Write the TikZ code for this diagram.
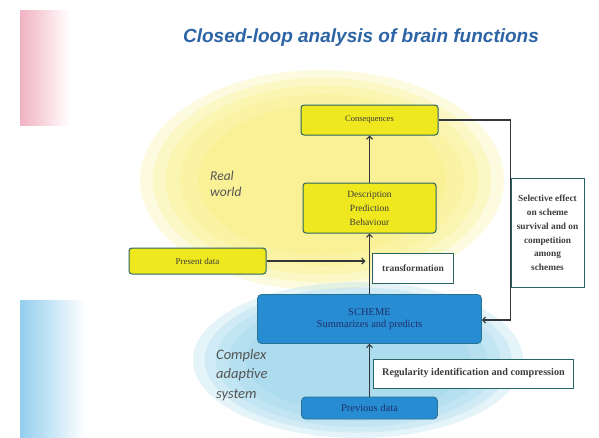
\documentclass[tikz,border=0pt]{standalone}
\usepackage{fontspec}
\setmainfont{Liberation Serif}
\newfontfamily\titlefont{Liberation Sans}
\newfontfamily\regionfont{Carlito}
\usetikzlibrary{arrows.meta,calc}
\definecolor{boxedge}{RGB}{40,100,100}
\definecolor{boxyellow}{RGB}{240,232,30}
\definecolor{boxblue}{RGB}{40,140,210}
\definecolor{navy}{RGB}{30,50,110}
\definecolor{textgray}{RGB}{60,60,60}
\definecolor{linegray}{RGB}{50,55,60}
\definecolor{titleblue}{RGB}{45,100,165}
\definecolor{blobyellow}{RGB}{250,238,110}
\definecolor{blobblue}{RGB}{150,212,235}
\definecolor{pinkdeco}{RGB}{238,160,180}
\definecolor{bluedeco}{RGB}{120,195,235}
\definecolor{regiongray}{RGB}{85,85,85}
\begin{document}
\begin{tikzpicture}[x=1pt,y=-1pt,
  ybox/.style={draw=boxedge, line width=1pt, fill=boxyellow, rounded corners=3pt,
    text=textgray, align=center, inner sep=0pt},
  bbox/.style={draw=boxedge!60!boxblue, line width=0.8pt, fill=boxblue, rounded corners=4pt,
    text=navy, align=center, inner sep=0pt},
  wbox/.style={draw=boxedge, line width=1pt, fill=white,
    text=textgray, align=center, inner sep=0pt},
  conn/.style={draw=linegray, line width=1.1pt, -{Straight Barb[length=3pt,width=6pt]}},
  plain/.style={draw=linegray, line width=1.1pt},
  italtext/.style={text=regiongray, align=left, inner sep=0pt}
]
\useasboundingbox (0,0) rectangle (599,437);
\fill[white] (0,0) rectangle (599,437);

% decorative strips
\shade[left color=pinkdeco, right color=white, opacity=0.8] (20,10) rectangle (70,125);
\shade[left color=bluedeco, right color=white, opacity=0.8] (20,300) rectangle (85,437);

% blobs
\foreach \s in {1.0,0.93,0.86,0.78,0.68}{
  \fill[blobyellow, fill opacity=0.22] (322,180) ellipse ({182*\s} and {110*\s});
}
\foreach \s in {1.0,0.93,0.86,0.78,0.68}{
  \fill[blobblue, fill opacity=0.25] (358,360) ellipse ({165*\s} and {78*\s});
}

% title
\node[font=\titlefont\fontsize{19}{21}\selectfont\bfseries\itshape, text=titleblue, inner sep=0pt]
  (title) at (361,38) {Closed-loop analysis of brain functions};

% boxes
\node[ybox, font=\fontsize{8.5}{12}\selectfont, minimum width=137, minimum height=30] (cons) at (369.5,120) {Consequences};
\node[ybox, font=\fontsize{9.5}{14}\selectfont, minimum width=133, minimum height=50] (desc) at (369.5,208) {Description\\Prediction\\Behaviour};
\node[ybox, font=\fontsize{9}{12}\selectfont, minimum width=137, minimum height=26] (present) at (197.5,261) {Present data};
\node[wbox, font=\fontsize{9.5}{12}\selectfont\bfseries, minimum width=81, minimum height=30, anchor=west] (trans) at (372,268) {transformation};
\node[bbox, font=\fontsize{10.5}{12}\selectfont, minimum width=224, minimum height=49] (scheme) at (369.5,319) {SCHEME\\Summarizes and predicts};
\node[wbox, font=\fontsize{9.3}{13.8}\selectfont\bfseries, minimum width=73, minimum height=109, anchor=north west] (sel) at (510.5,178)
  {Selective effect\\on scheme\\survival and on\\competition\\among\\schemes};
\node[wbox, font=\fontsize{10.2}{12}\selectfont\bfseries, minimum width=200, minimum height=29, anchor=west] (reg) at (373,373.5)
  {Regularity identification and compression};
\node[bbox, font=\fontsize{10.5}{12}\selectfont, minimum width=136, minimum height=22] (prev) at (369.5,408) {Previous data};

% region labels
\node[italtext, font=\regionfont\itshape\fontsize{13.5}{15.5}\selectfont, anchor=north west] (real) at (210,171) {Real\\world};
\node[italtext, font=\regionfont\itshape\fontsize{14.5}{19.5}\selectfont, anchor=north west] (cas) at (216,349) {Complex\\adaptive\\system};

% connectors
\draw[conn] (desc) -- (cons);
\draw[conn] (scheme) -- (desc);
\draw[conn] (prev) -- (scheme);
\coordinate (pj) at (369.5,261);
\draw[conn] (present.east) -- ([xshift=-4pt]pj);
\coordinate (fbc) at (510.5,320);
\draw[plain] (cons.east) -| (fbc);
\draw[conn] (fbc) -- (scheme.east |- fbc);
\end{tikzpicture}
\end{document}
